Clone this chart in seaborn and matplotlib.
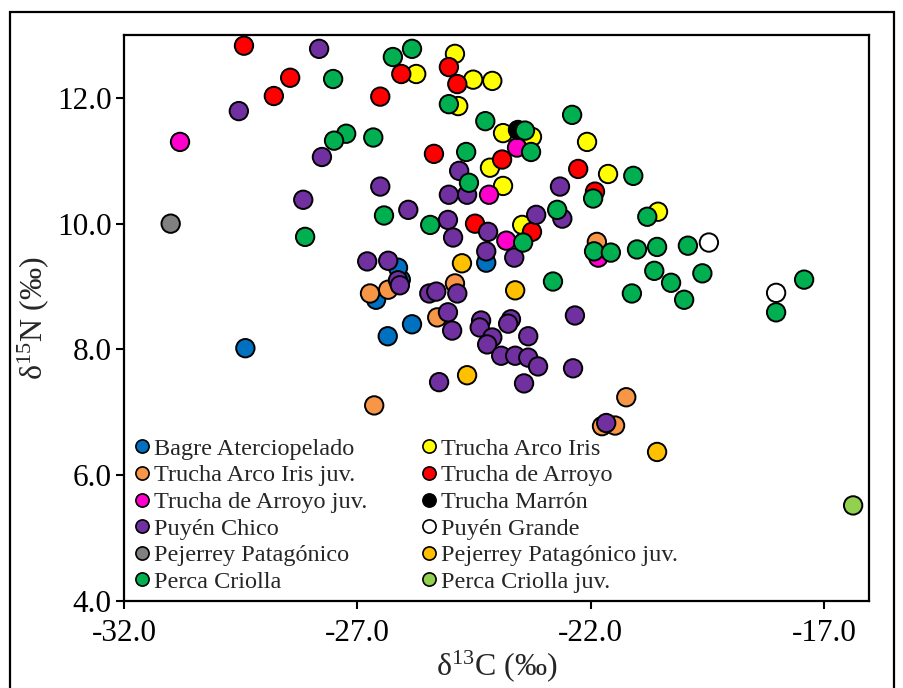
import matplotlib
matplotlib.use("Agg")
import matplotlib.pyplot as plt
from matplotlib.lines import Line2D
from matplotlib.patches import Rectangle
from matplotlib.ticker import FuncFormatter
import pandas as pd
import seaborn as sns

# Stable isotope values (δ13C, δ15N) per species group
bagre_x = [-29.40, -26.35, -26.60, -25.83, -24.24, -26.07, -26.13]
bagre_y = [8.02, 8.21, 8.79, 8.40, 9.38, 9.11, 9.30]

tai_x = [-24.91, -25.74, -24.52, -24.11, -24.84, -23.88, -23.26, -24.16, -23.88, -23.47, -21.63, -20.56, -22.08]
tai_y = [12.70, 12.38, 12.29, 12.27, 11.87, 11.44, 11.38, 10.89, 10.60, 9.98, 10.79, 10.19, 11.30]

tai_juv_x = [-26.64, -26.73, -26.34, -24.91, -25.29, -21.87, -21.24, -21.76, -21.48]
tai_juv_y = [7.11, 8.89, 8.95, 9.05, 8.51, 9.71, 7.24, 6.78, 6.79]

tda_x = [-29.43, -28.44, -28.79, -26.51, -26.06, -25.04, -24.86, -25.36, -23.90, -22.27, -24.48, -23.26, -21.91]
tda_y = [12.83, 12.32, 12.03, 12.02, 12.38, 12.49, 12.22, 11.11, 11.02, 10.87, 10.00, 9.87, 10.51]

tda_juv_x = [-30.80, -23.58, -24.18, -23.81, -21.84]
tda_juv_y = [11.30, 11.21, 10.46, 9.73, 9.46]

marron_x = [-23.56]
marron_y = [11.49]

pchico_x = [-27.82, -29.54, -27.76, -26.51, -28.16, -26.79, -25.91, -24.82, -25.04, -24.65,
            -22.66, -22.61, -23.17, -25.06, -24.95, -24.20, -24.24, -23.64, -26.34, -26.13,
            -26.09, -25.46, -25.31, -24.86, -25.06, -24.97, -24.35, -24.38, -23.71, -23.77,
            -24.11, -24.22, -23.34, -23.92, -23.62, -23.34, -23.13, -23.43, -25.25, -22.38,
            -22.34, -21.67]
pchico_y = [12.78, 11.79, 11.06, 10.59, 10.38, 9.40, 10.22, 10.84, 10.46, 10.46,
            10.59, 10.08, 10.14, 10.06, 9.78, 9.87, 9.56, 9.46, 9.41, 9.10,
            9.02, 8.89, 8.92, 8.89, 8.59, 8.30, 8.46, 8.35, 8.48, 8.41,
            8.19, 8.08, 8.21, 7.90, 7.90, 7.87, 7.73, 7.46, 7.48, 7.70,
            8.54, 6.83]

pgrande_x = [-19.47, -18.03]
pgrande_y = [9.70, 8.90]

pejerrey_x = [-31.0]
pejerrey_y = [10.0]

pejerrey_juv_x = [-24.76, -23.62, -24.65, -20.58]
pejerrey_juv_y = [9.37, 8.94, 7.59, 6.37]

perca_x = [-26.24, -27.52, -27.24, -27.50, -26.66, -26.43, -28.12, -25.83, -25.04, -24.26,
           -23.41, -23.28, -24.67, -22.40, -24.61, -21.09, -21.95, -20.79, -22.72, -25.44,
           -23.45, -22.81, -21.93, -21.57, -21.01, -20.58, -19.92, -20.64, -20.28, -19.61,
           -21.12, -20.00, -17.43, -18.03]
perca_y = [12.65, 12.30, 11.43, 11.32, 11.37, 10.13, 9.79, 12.78, 11.90, 11.63,
           11.48, 11.14, 11.14, 11.73, 10.65, 10.76, 10.40, 10.11, 10.22, 9.98,
           9.70, 9.08, 9.56, 9.54, 9.59, 9.63, 9.65, 9.25, 9.06, 9.21,
           8.89, 8.79, 9.11, 8.59]

perca_juv_x = [-16.38]
perca_juv_y = [5.52]

species = ["Bagre Aterciopelado", "Trucha Arco Iris", "Trucha Arco Iris juv.",
           "Trucha de Arroyo", "Trucha de Arroyo juv.", "Trucha Marrón",
           "Puyén Chico", "Puyén Grande", "Pejerrey Patagónico",
           "Pejerrey Patagónico juv.", "Perca Criolla", "Perca Criolla juv."]
xs = [bagre_x, tai_x, tai_juv_x, tda_x, tda_juv_x, marron_x,
      pchico_x, pgrande_x, pejerrey_x, pejerrey_juv_x, perca_x, perca_juv_x]
ys = [bagre_y, tai_y, tai_juv_y, tda_y, tda_juv_y, marron_y,
      pchico_y, pgrande_y, pejerrey_y, pejerrey_juv_y, perca_y, perca_juv_y]
colors = ["#0070C0", "#FFFF00", "#F79646", "#FF0000", "#FF00CC", "#000000",
          "#7030A0", "#FFFFFF", "#808080", "#FFC000", "#00B050", "#92D050"]

x_ticks = [-32.0, -27.0, -22.0, -17.0]
y_ticks = [4.0, 6.0, 8.0, 10.0, 12.0]

rows = []
for name, xv, yv in zip(species, xs, ys):
    for a, b in zip(xv, yv):
        rows.append({"d13C": a, "d15N": b, "Especie": name})
df = pd.DataFrame(rows)
palette = dict(zip(species, colors))

sns.set_style("white")
plt.rcParams["font.family"] = ["Liberation Serif", "DejaVu Serif"]
plt.rcParams["mathtext.default"] = "regular"
plt.rcParams["axes.unicode_minus"] = False

fig = plt.figure(figsize=(9.04, 6.88), dpi=100)
ax = fig.add_axes([124 / 904, 1 - 601 / 688, (869 - 124) / 904, (601 - 35) / 688])

sns.scatterplot(data=df, x="d13C", y="d15N", hue="Especie", hue_order=species,
                palette=palette, s=175, edgecolor="black", linewidth=1.4,
                legend=False, ax=ax, zorder=3)

ax.set_xlim(-32, -16.04)
ax.set_ylim(4, 13)
ax.set_xticks(x_ticks)
ax.set_yticks(y_ticks)
fmt = FuncFormatter(lambda v, p: f"{v:.1f}")
ax.xaxis.set_major_formatter(fmt)
ax.yaxis.set_major_formatter(fmt)
ax.tick_params(axis="both", which="major", direction="out", length=6, width=1.5,
               labelsize=22.5, color="black", labelcolor="black")
ax.tick_params(axis="x", pad=7, top=False, bottom=True)
ax.tick_params(axis="y", pad=3, right=False, left=True)
for sp in ax.spines.values():
    sp.set_linewidth(1.6)
    sp.set_color("black")
    sp.set_visible(True)

ax.set_xlabel("δ$^{13}$C (‰)", fontsize=23, labelpad=0)
ax.set_ylabel("δ$^{15}$N (‰)", fontsize=23, labelpad=4)

# Two-column legend, filled column by column
order = [0, 2, 4, 6, 8, 10, 1, 3, 5, 7, 9, 11]
handles = [Line2D([], [], marker="o", linestyle="none", markersize=9.5,
                  markerfacecolor=colors[i], markeredgecolor="black",
                  markeredgewidth=1.2) for i in order]
labels = [species[i] for i in order]
ax.legend(handles, labels, ncol=2, loc="upper left", bbox_to_anchor=(0.006, 0.297),
          frameon=False, fontsize=17.5, handlelength=0.7, handletextpad=0.15,
          labelspacing=0.19, columnspacing=2.2, borderpad=0.2, borderaxespad=0.0)

# Chart area border
fig.patches.append(Rectangle((10 / 904, -0.05), (894 - 10) / 904, 1.05 - 12 / 688,
                             transform=fig.transFigure, fill=False,
                             edgecolor="black", linewidth=1.6))

fig.savefig("out.png", dpi=100)
